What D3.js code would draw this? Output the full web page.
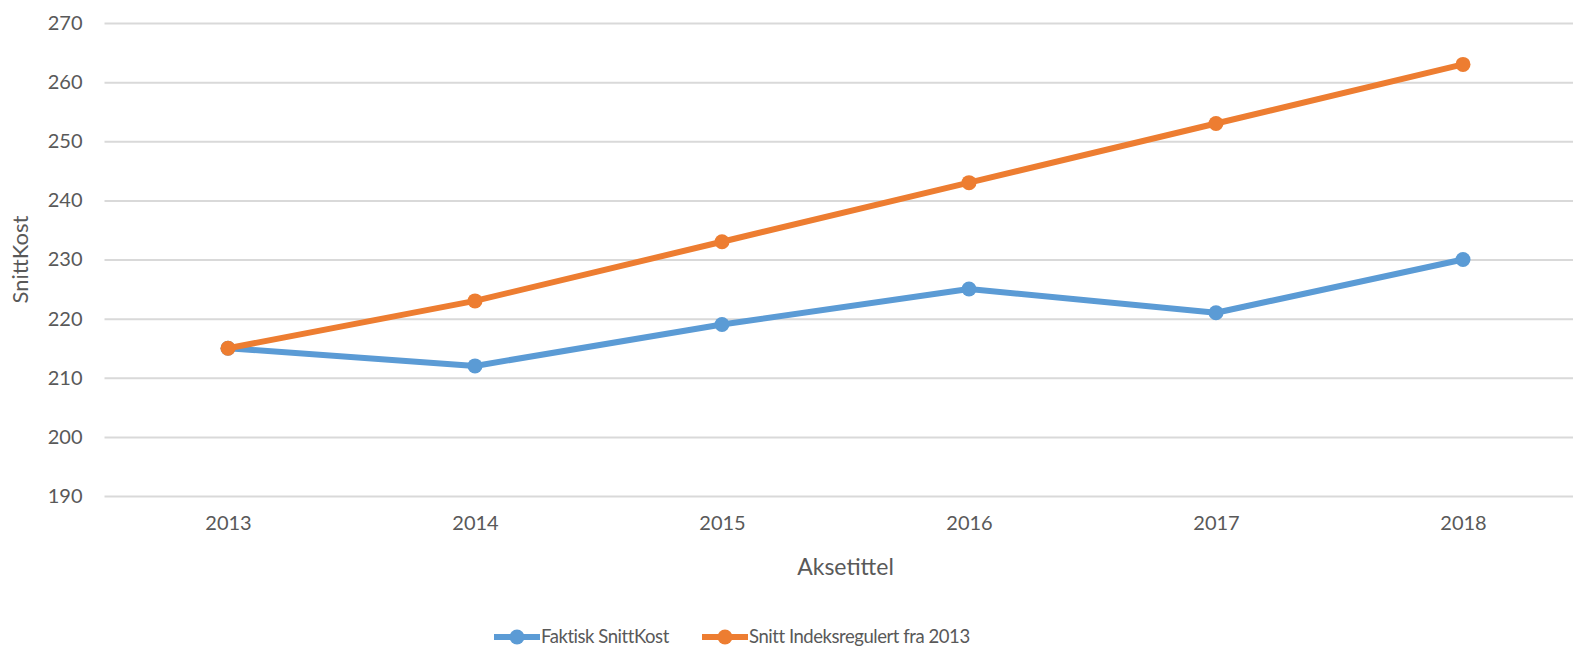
<!DOCTYPE html>
<html>
<head>
<meta charset="utf-8">
<script src="https://cdn.jsdelivr.net/npm/d3@7"></script>
<style>
  body { margin: 0; background: #fff; }
  svg { display: block; }
  svg text { font-family: Lato, "Open Sans", sans-serif; fill: #595959; }
</style>
</head>
<body>
<div id="chart"></div>
<script>
var width = 1573;
var height = 648;

// data
const years = ["2013", "2014", "2015", "2016", "2017", "2018"];
const faktisk = [215, 212, 219, 225, 221, 230];
const indeks = [215, 223, 233, 243, 253, 263];
const yTicks = [190, 200, 210, 220, 230, 240, 250, 260, 270];

const seriesNames = ["Faktisk SnittKost", "Snitt Indeksregulert fra 2013"];
const colors = ["#5B9BD5", "#ED7D31"];

var svg = d3.select("#chart")
  .append("svg")
  .attr("width", width)
  .attr("height", height);

// plot area (the right edge runs past the picture, like the original)
var plotLeft = 104.5, plotRight = 1586.5;
var plotTop = 23, plotBottom = 496;

var x = d3.scalePoint()
  .domain(years)
  .range([plotLeft, plotRight])
  .padding(0.5);

var y = d3.scaleLinear()
  .domain([190, 270])
  .range([plotBottom, plotTop]);

// gridlines + y labels
var yAxis = d3.axisLeft(y)
  .tickValues(yTicks)
  .tickSize(-(plotRight - plotLeft))
  .tickPadding(22)
  .tickFormat(d3.format("d"));

var gy = svg.append("g")
  .attr("transform", "translate(" + plotLeft + ",0)")
  .call(yAxis);
gy.select(".domain").remove();
gy.selectAll(".tick line").attr("stroke", "#D9D9D9").attr("stroke-width", 2);
gy.selectAll(".tick text").style("font-size", "20px");

// x labels
var xAxis = d3.axisBottom(x).tickSize(0).tickPadding(20);
var gx = svg.append("g")
  .attr("transform", "translate(0," + plotBottom + ")")
  .call(xAxis);
gx.select(".domain").remove();
gx.selectAll(".tick text").style("font-size", "20px");

// axis titles
svg.append("text")
  .attr("x", (plotLeft + plotRight) / 2)
  .attr("y", 575)
  .attr("text-anchor", "middle")
  .style("font-size", "23px")
  .text("Aksetittel");

svg.append("text")
  .attr("transform", "translate(28," + ((plotTop + plotBottom) / 2) + ") rotate(-90)")
  .attr("text-anchor", "middle")
  .style("font-size", "22px")
  .text("SnittKost");

// lines
var line = d3.line()
  .x(function(d, i) { return x(years[i]); })
  .y(function(d) { return y(d); });

[faktisk, indeks].forEach(function(vals, k) {
  svg.append("path")
    .datum(vals)
    .attr("fill", "none")
    .attr("stroke", colors[k])
    .attr("stroke-width", 6)
    .attr("stroke-linejoin", "round")
    .attr("d", line);

  svg.selectAll(".dot" + k)
    .data(vals)
    .enter()
    .append("circle")
    .attr("class", "dot" + k)
    .attr("cx", function(d, i) { return x(years[i]); })
    .attr("cy", function(d) { return y(d); })
    .attr("r", 7.5)
    .attr("fill", colors[k]);
});

// legend
var legendX = [494, 702];
var legendY = 637;
seriesNames.forEach(function(name, k) {
  var g = svg.append("g").attr("transform", "translate(" + legendX[k] + "," + legendY + ")");
  g.append("line")
    .attr("x1", 0).attr("x2", 46)
    .attr("stroke", colors[k])
    .attr("stroke-width", 6);
  g.append("circle").attr("cx", 23).attr("r", 7.5).attr("fill", colors[k]);
  g.append("text")
    .attr("x", 47)
    .attr("dy", "0.35em")
    .style("font-size", "18.5px")
    .style("letter-spacing", "-0.45px")
    .text(name);
});
</script>
</body>
</html>
